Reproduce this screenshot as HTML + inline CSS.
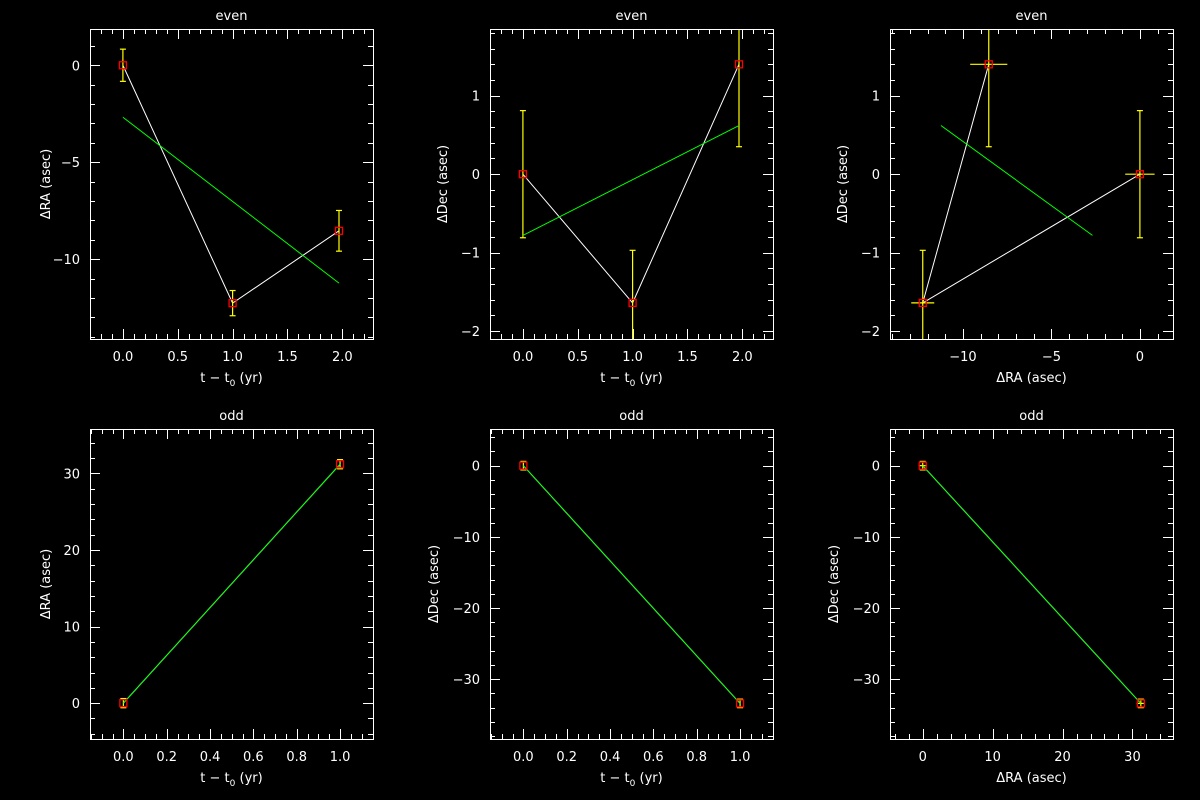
<!DOCTYPE html>
<html><head><meta charset="utf-8"><style>
html,body{margin:0;padding:0;background:#000;}
svg{display:block;font-family:"DejaVu Sans","Liberation Sans",sans-serif;}
text{fill:#fff;font-size:13px;}
</style></head><body>
<svg id="fig" width="1200" height="800" viewBox="0 0 1200 800" xmlns="http://www.w3.org/2000/svg"></svg>
<script>
// ---- data ----
const tEven = [0, 1, 1.97];
const raEven = [0, -12.27, -8.54];
const raErrEven = [0.83, 0.65, 1.05];
const decEven = [0, -1.64, 1.40];
const decErrEven = [0.81, 0.67, 1.05];
const fitTEven = [0, 1.97];
const fitRAEven = [-2.68, -11.24];
const fitDecEven = [-0.78, 0.62];
const tOdd = [0, 1];
const raOdd = [0, 31.2];
const raErrOdd = [0.6, 0.6];
const decOdd = [0, -33.4];
const decErrOdd = [0.6, 0.6];
const fitTOdd = [0, 1];
const fitRAOdd = [0, 31.2];
const fitDecOdd = [0, -33.4];
// tick labels
const tTicksEven = [0, 0.5, 1, 1.5, 2];
const tTicksOdd = [0, 0.2, 0.4, 0.6, 0.8, 1];
const raTicksEven = [0, -5, -10];
const decTicksEven = [1, 0, -1, -2];
const raTicksOdd = [0, 10, 20, 30];
const decTicksOdd = [0, -10, -20, -30];

const NS = "http://www.w3.org/2000/svg";
const svg = document.getElementById('fig');
function el(tag, attrs, parent) {
  const e = document.createElementNS(NS, tag);
  for (const k in attrs) e.setAttribute(k, attrs[k]);
  (parent || svg).appendChild(e);
  return e;
}
function fmt(v, dec) { const s = Math.abs(v).toFixed(dec); return (v < 0 ? "\u2212" : "") + s; }

let clipId = 0;
function panel(o) {
  const L = o.left, R = o.left + 283, T = o.top, B = o.top + 310;
  const xs = v => L + (v - o.xr[0]) / (o.xr[1] - o.xr[0]) * (R - L);
  const ys = v => B - (v - o.yr[0]) / (o.yr[1] - o.yr[0]) * (B - T);
  const g = el('g', {});
  
  
  const title = el('text', {x: (L + R) / 2, y: T - 9, 'text-anchor': 'middle', 'font-size': 14}, g);
  title.textContent = o.title;
  
  
  // ticks
  const tg = el('g', {stroke: '#fff', 'stroke-width': 1}, g);
  
  
  const eps = 1e-9;
  for (let v = Math.ceil(o.xr[0] / o.xminor - eps) * o.xminor; v <= o.xr[1] + eps; v += o.xminor) {
    const x = Math.round(xs(v)) + 0.5;
    const major = o.xticks.some(t => Math.abs(t - v) < o.xminor / 10);
    const len = major ? 10 : 5;
    el('line', {x1: x, x2: x, y1: B, y2: B - len}, tg);
    el('line', {x1: x, x2: x, y1: T, y2: T + len}, tg);
  }
  for (let v = Math.ceil(o.yr[0] / o.yminor - eps) * o.yminor; v <= o.yr[1] + eps; v += o.yminor) {
    const y = Math.round(ys(v)) + 0.5;
    const major = o.yticks.some(t => Math.abs(t - v) < o.yminor / 10);
    const len = major ? 10 : 5;
    el('line', {x1: L, x2: L + len, y1: y, y2: y}, tg);
    el('line', {x1: R, x2: R - len, y1: y, y2: y}, tg);
  }
  o.xticks.forEach(t => {
    const tx = el('text', {x: xs(t), y: B + 22, 'text-anchor': 'middle'}, g);
    tx.textContent = fmt(t, o.xdec);
    
    
  });
  o.yticks.forEach(t => {
    const tx = el('text', {x: L - 10, y: ys(t) + 5, 'text-anchor': 'end'}, g);
    tx.textContent = fmt(t, 0);
    
    
  });
  // axis titles
  const xt = el('text', {x: (L + R) / 2, y: B + 43, 'text-anchor': 'middle', 'font-size': 14}, g);
  
  
  if (o.xlabel === 't') {
    xt.appendChild(document.createTextNode('t \u2212 t'));
    const s = el('tspan', {'font-size': 9, dy: 4}, xt); s.textContent = '0';
    const s2 = el('tspan', {dy: -4}, xt); s2.textContent = ' (yr)';
  } else xt.textContent = o.xlabel;
  const yx = L - o.ylabOff;
  const yt = el('text', {x: yx, y: (T + B) / 2, 'text-anchor': 'middle', 'font-size': 14, transform: `rotate(-90 ${yx} ${(T + B) / 2})`}, g);
  yt.textContent = o.ylabel;
  
  
  // clip
  const cid = 'c' + (clipId++);
  const cp = el('clipPath', {id: cid}, g);
  el('rect', {x: L, y: T, width: R - L, height: B - T}, cp);
  const dg = el('g', {'clip-path': `url(#${cid})`}, g);
  
  
  // data polyline
  const pl = el('polyline', {points: o.x.map((v, i) => xs(v) + ',' + ys(o.y[i])).join(' '), fill: 'none', stroke: '#fff', 'stroke-width': 1}, dg);
  
  
  // error bars
  o.x.forEach((v, i) => {
    const x = xs(v), y = ys(o.y[i]);
    const eg = el('g', {stroke: '#ff0', 'stroke-width': 1.2}, dg);
    
    
    const y1 = ys(o.y[i] + o.ye[i]), y2 = ys(o.y[i] - o.ye[i]);
    el('line', {x1: x, x2: x, y1: y1, y2: y2}, eg);
    el('line', {x1: x - 3, x2: x + 3, y1: y1, y2: y1}, eg);
    el('line', {x1: x - 3, x2: x + 3, y1: y2, y2: y2}, eg);
    if (o.xe) {
      el('line', {x1: xs(v - o.xe[i]), x2: xs(v + o.xe[i]), y1: y, y2: y}, eg);
    }
  });
  // fit line
  const fl = el('polyline', {points: o.fx.map((v, i) => xs(v) + ',' + ys(o.fy[i])).join(' '), fill: 'none', stroke: '#00ff00', 'stroke-width': 1}, dg);
  
  
  o.x.forEach((v, i) => {
    const m = el('rect', {x: xs(v) - 3.5, y: ys(o.y[i]) - 3.5, width: 7, height: 7, fill: 'none', stroke: '#f00', 'stroke-width': 1.3}, dg);
    
    
  });
  // frame
  const fr = el('rect', {x: L + 0.5, y: T + 0.5, width: R - L, height: B - T, fill: 'none', stroke: '#fff', 'stroke-width': 1}, g);
  
  
}

const tR = [-0.3, 2.28], raR = [-14.12, 1.87], decR = [-2.1, 1.85];
const tRo = [-0.154, 1.152], raRo = [-4.68, 35.8], decRo = [-38.4, 5.15];

panel({name: 'panel-even-ra-vs-t', title: 'even', left: 90, top: 29, xr: tR, yr: raR, xticks: tTicksEven, xminor: 0.1, xdec: 1, yticks: raTicksEven, yminor: 1, xlabel: 't', ylabel: '\u0394RA (asec)', ylabOff: 40,
  x: tEven, y: raEven, ye: raErrEven, fx: fitTEven, fy: fitRAEven});
panel({name: 'panel-even-dec-vs-t', title: 'even', left: 490, top: 29, xr: tR, yr: decR, xticks: tTicksEven, xminor: 0.1, xdec: 1, yticks: decTicksEven, yminor: 0.2, xlabel: 't', ylabel: '\u0394Dec (asec)', ylabOff: 43,
  x: tEven, y: decEven, ye: decErrEven, fx: fitTEven, fy: fitDecEven});
panel({name: 'panel-even-dec-vs-ra', title: 'even', left: 890, top: 29, xr: raR, yr: decR, xticks: raTicksEven, xminor: 1, xdec: 0, yticks: decTicksEven, yminor: 0.2, xlabel: '\u0394RA (asec)', ylabel: '\u0394Dec (asec)', ylabOff: 43,
  x: raEven, y: decEven, ye: decErrEven, xe: raErrEven, fx: fitRAEven, fy: fitDecEven});
panel({name: 'panel-odd-ra-vs-t', title: 'odd', left: 90, top: 429, xr: tRo, yr: raRo, xticks: tTicksOdd, xminor: 0.05, xdec: 1, yticks: raTicksOdd, yminor: 2, xlabel: 't', ylabel: '\u0394RA (asec)', ylabOff: 40,
  x: tOdd, y: raOdd, ye: raErrOdd, fx: fitTOdd, fy: fitRAOdd});
panel({name: 'panel-odd-dec-vs-t', title: 'odd', left: 490, top: 429, xr: tRo, yr: decRo, xticks: tTicksOdd, xminor: 0.05, xdec: 1, yticks: decTicksOdd, yminor: 2, xlabel: 't', ylabel: '\u0394Dec (asec)', ylabOff: 52,
  x: tOdd, y: decOdd, ye: decErrOdd, fx: fitTOdd, fy: fitDecOdd});
panel({name: 'panel-odd-dec-vs-ra', title: 'odd', left: 890, top: 429, xr: raRo, yr: decRo, xticks: raTicksOdd, xminor: 2, xdec: 0, yticks: decTicksOdd, yminor: 2, xlabel: '\u0394RA (asec)', ylabel: '\u0394Dec (asec)', ylabOff: 52,
  x: raOdd, y: decOdd, ye: decErrOdd, xe: raErrOdd, fx: fitRAOdd, fy: fitDecOdd});
</script>
</body></html>
